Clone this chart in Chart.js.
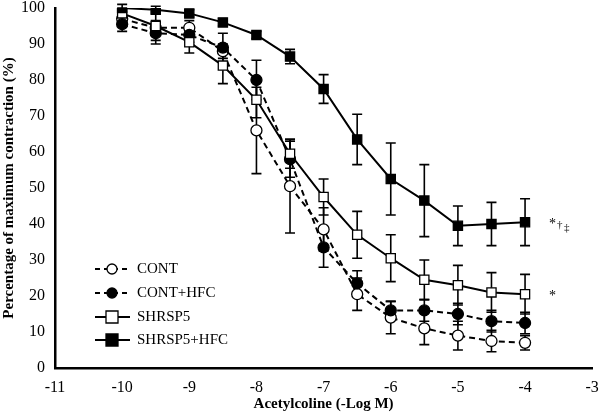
<!DOCTYPE html>
<html>
<head>
<meta charset="utf-8">
<script src="https://cdn.jsdelivr.net/npm/chart.js@4.4.0/dist/chart.umd.min.js"></script>
<style>
  html, body { margin: 0; padding: 0; background: #fff; }
  #wrap { width: 600px; height: 417px; position: relative; }
</style>
</head>
<body>
<div id="wrap"><canvas id="chart"></canvas></div>
<script>
// concentrations (-log M)
const doses = [-10, -9.5, -9, -8.5, -8, -7.5, -7, -6.5, -6, -5.5, -5, -4.5, -4];

const cont      = [97, 94.5, 94.5, 88, 66, 50.5, 38.5, 20.5, 14, 11, 9, 7.5, 7];
const contErr   = [1.5, 2, 2, 2, 12, 13, 6, 4.5, 4.5, 4.5, 4, 3, 2];
const contHfc    = [95.5, 93, 92.5, 89, 80, 58, 33.5, 23.5, 16, 16, 15, 13, 12.5];
const contHfcErr = [2, 3, 2, 4, 5.5, 5, 5.5, 3.5, 2.5, 3, 3, 3, 3];
const shr       = [98.5, 95, 90.5, 84, 74.5, 59.5, 47.5, 37, 30.5, 24.5, 23, 21, 20.5];
const shrErr    = [1.5, 4, 3, 5, 5, 4, 5, 6.5, 6.5, 5.5, 5.5, 5.5, 5.5];
const shrHfc    = [100, 99.5, 98.5, 96, 92.5, 86.5, 77.5, 63.5, 52.5, 46.5, 39.5, 40, 40.5];
const shrHfcErr = [1, 1, 1, 1, 1, 2, 4, 7, 10, 10, 5.5, 6, 6.5];

const xTicks = [-11, -10, -9, -8, -7, -6, -5, -4, -3];
const yTicks = [0, 10, 20, 30, 40, 50, 60, 70, 80, 90, 100];

const serif = '"Liberation Serif", "Times New Roman", serif';

function pts(vals) {
  return vals.map((v, i) => ({ x: doses[i], y: v }));
}

const series = [
  { label: 'CONT', data: cont, err: contErr, fill: '#fff', dash: [6, 4], style: 'circle' },
  { label: 'CONT+HFC', data: contHfc, err: contHfcErr, fill: '#000', dash: [6, 4], style: 'circle' },
  { label: 'SHRSP5', data: shr, err: shrErr, fill: '#fff', dash: [], style: 'rect' },
  { label: 'SHRSP5+HFC', data: shrHfc, err: shrHfcErr, fill: '#000', dash: [], style: 'rect' }
];

const datasets = series.map((s, i) => ({
  label: s.label,
  data: pts(s.data),
  errors: s.err,
  borderColor: '#000',
  borderWidth: 2,
  borderDash: s.dash,
  pointStyle: s.style,
  pointRadius: s.style === 'rect' ? 6.5 : 5.5,
  pointBackgroundColor: s.fill,
  pointBorderColor: '#000',
  pointBorderWidth: 1.3,
  order: 4 - i,
  tension: 0
}));

// vertical error bars with caps, drawn behind the markers
const errorBars = {
  id: 'errorBars',
  beforeDatasetsDraw(chart) {
    const ctx = chart.ctx;
    const xs = chart.scales.x, ys = chart.scales.y;
    ctx.save();
    ctx.strokeStyle = '#000';
    ctx.lineWidth = 1.6;
    chart.data.datasets.forEach(ds => {
      ds.data.forEach((p, i) => {
        const e = ds.errors[i];
        const px = xs.getPixelForValue(p.x);
        const top = ys.getPixelForValue(p.y + e);
        const bot = ys.getPixelForValue(p.y - e);
        ctx.beginPath();
        ctx.moveTo(px, top); ctx.lineTo(px, bot);
        ctx.moveTo(px - 5, top); ctx.lineTo(px + 5, top);
        ctx.moveTo(px - 5, bot); ctx.lineTo(px + 5, bot);
        ctx.stroke();
      });
    });
    ctx.restore();
  }
};

// legend inside the plot and significance marks
const extras = {
  id: 'extras',
  afterDraw(chart) {
    const ctx = chart.ctx;
    ctx.save();
    ctx.font = '15px ' + serif;
    ctx.textBaseline = 'middle';
    const rows = [269, 293, 317, 340];
    series.forEach((s, i) => {
      const y = rows[i];
      ctx.strokeStyle = '#000';
      ctx.lineWidth = 2;
      ctx.setLineDash(s.dash.length ? [5, 4] : []);
      ctx.beginPath();
      ctx.moveTo(95, y); ctx.lineTo(130, y);
      ctx.stroke();
      ctx.setLineDash([]);
      ctx.fillStyle = s.fill;
      ctx.lineWidth = 1.3;
      ctx.beginPath();
      if (s.style === 'circle') {
        ctx.arc(112, y, 5, 0, Math.PI * 2);
      } else {
        ctx.rect(106, y - 6, 12, 12);
      }
      ctx.fill();
      ctx.stroke();
      ctx.fillStyle = '#000';
      ctx.fillText(s.label, 137, y);
    });
    const xs = chart.scales.x, ys = chart.scales.y;
    const ax = xs.getPixelForValue(-4) + 24;
    ctx.font = '14px ' + serif;
    ctx.fillText('*', ax, ys.getPixelForValue(shr[12]) + 2);
    const yy = ys.getPixelForValue(shrHfc[12]);
    ctx.fillText('*', ax, yy + 2);
    ctx.font = '11px ' + serif;
    ctx.fillText('\u2020', ax + 8, yy + 3);
    ctx.fillText('\u2021', ax + 15, yy + 6);
    ctx.restore();
  }
};

new Chart(document.getElementById('chart'), {
  type: 'line',
  data: { datasets: datasets },
  options: {
    responsive: true,
    maintainAspectRatio: false,
    animation: false,
    layout: { padding: { top: 0, right: 0, left: 0, bottom: 0 } },
    plugins: {
      legend: { display: false },
      tooltip: { enabled: false }
    },
    scales: {
      x: {
        type: 'linear',
        min: -11,
        max: -3,
        afterBuildTicks: s => { s.ticks = xTicks.map(v => ({ value: v })); },
        afterFit: s => { s.height = 49; s.paddingRight = 2; },
        grid: { display: false, drawTicks: true, tickLength: 5, tickColor: '#000', tickWidth: 2 },
        border: { display: true, color: '#000', width: 2.5 },
        ticks: { color: '#000', font: { family: serif, size: 16 }, padding: 5, maxRotation: 0 },
        title: { display: true, text: 'Acetylcoline (-Log M)', color: '#000', font: { family: serif, size: 15, weight: 'bold' }, padding: { top: 0, bottom: 4 } }
      },
      y: {
        min: 0,
        max: 100,
        afterBuildTicks: s => { s.ticks = yTicks.map(v => ({ value: v })); },
        afterFit: s => { s.width = 55; s.paddingTop = 8; },
        grid: { display: false, drawTicks: true, tickLength: 5, tickColor: '#000', tickWidth: 2 },
        border: { display: true, color: '#000', width: 2.5 },
        ticks: { color: '#000', font: { family: serif, size: 16 }, padding: 5 },
        title: { display: true, text: 'Percentage of maximum contraction (%)', color: '#000', font: { family: serif, size: 15, weight: 'bold' }, padding: { top: 0, bottom: 1 } }
      }
    }
  },
  plugins: [errorBars, extras]
});
</script>
</body>
</html>
